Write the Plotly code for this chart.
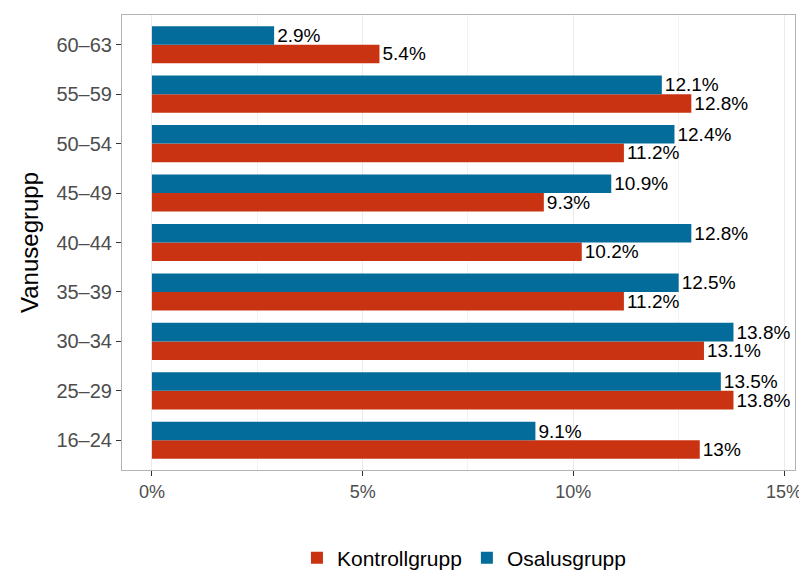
import plotly.graph_objects as go

# age groups, bottom to top
groups = ["16–24", "25–29", "30–34", "35–39", "40–44", "45–49", "50–54", "55–59", "60–63"]
kontroll = [13.0, 13.8, 13.1, 11.2, 10.2, 9.3, 11.2, 12.8, 5.4]
osalus = [9.1, 13.5, 13.8, 12.5, 12.8, 10.9, 12.4, 12.1, 2.9]
kontroll_labels = ["13%", "13.8%", "13.1%", "11.2%", "10.2%", "9.3%", "11.2%", "12.8%", "5.4%"]
osalus_labels = ["9.1%", "13.5%", "13.8%", "12.5%", "12.8%", "10.9%", "12.4%", "12.1%", "2.9%"]

font = "Liberation Sans, Arial, sans-serif"

fig = go.Figure()
fig.add_trace(go.Bar(y=groups, x=kontroll, orientation="h", name="Kontrollgrupp",
                     marker_color="#C93312", marker_line_width=0,
                     text=kontroll_labels, textposition="outside", cliponaxis=False,
                     constraintext="none", textfont=dict(size=19, color="black")))
fig.add_trace(go.Bar(y=groups, x=osalus, orientation="h", name="Osalusgrupp",
                     marker_color="#046C9A", marker_line_width=0,
                     text=osalus_labels, textposition="outside", cliponaxis=False,
                     constraintext="none", textfont=dict(size=19, color="black")))

# page body has an 8px margin, so margins are shifted by 8px
fig.update_layout(
    width=807, height=576,
    barmode="group", bargap=0.25, bargroupgap=0,
    plot_bgcolor="white", paper_bgcolor="white",
    font=dict(family=font, size=16, color="#4D4D4D"),
    margin=dict(l=114, r=20, t=7, b=114),
    legend=dict(orientation="h", xref="container", yref="container",
                x=0.565, xanchor="center", y=0.045, yanchor="middle",
                font=dict(size=21, color="black"), traceorder="normal"),
    xaxis=dict(range=[-0.71, 15.26], tickvals=[0, 5, 10, 15],
               ticktext=["0%", "5%", "10%", "15%"], automargin=False,
               showgrid=True, gridcolor="#EBEBEB", gridwidth=1.2,
               minor=dict(tickvals=[2.5, 7.5, 12.5], showgrid=True, gridcolor="#F2F2F2", gridwidth=0.8),
               ticks="outside", ticklen=5, tickcolor="#333333",
               showline=True, linecolor="#B3B3B3", mirror=True, zeroline=False,
               tickfont=dict(size=18, color="#4D4D4D")),
    yaxis=dict(title=dict(text="Vanusegrupp", font=dict(size=24, color="black"), standoff=10),
               range=[-0.6, 8.6], showgrid=False, automargin=False,
               ticks="outside", ticklen=5, tickcolor="#333333",
               showline=True, linecolor="#B3B3B3", mirror=True,
               tickfont=dict(size=20, color="#4D4D4D")),
)

fig.write_html("out.html")
